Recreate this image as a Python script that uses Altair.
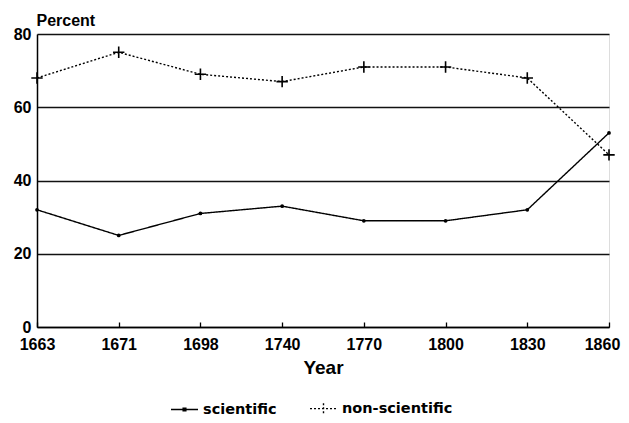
import altair as alt
import pandas as pd

years = ["1663", "1671", "1698", "1740", "1770", "1800", "1830", "1860"]
scientific = [32, 25, 31, 33, 29, 29, 32, 53]
non_scientific = [68, 75, 69, 67, 71, 71, 68, 47]
series_names = ["scientific", "non-scientific"]
y_ticks = [0, 20, 40, 60, 80]

rows = []
for name, vals in zip(series_names, [scientific, non_scientific]):
    for yr, v in zip(years, vals):
        rows.append({"Year": yr, "Percent": v, "series": name})
df = pd.DataFrame(rows)

FONT = "Liberation Sans"
LEG_FONT = "DejaVu Sans"

x_enc = alt.X(
    "Year:O",
    sort=years,
    scale=alt.Scale(padding=0),
    axis=alt.Axis(
        title="Year",
        labelAngle=0,
        labelFont=FONT,
        labelFontSize=16,
        labelFontWeight="bold",
        labelColor="black",
        labelPadding=14,
        labelOffset={"condition": {"test": "datum.label == '1860'", "value": -7}, "value": 0},
        tickSize=alt.ExprRef("-5"),
        tickColor="black",
        tickWidth=1.3,
        domainColor="black",
        domainWidth=1.5,
        grid=False,
        titleFont=FONT,
        titleFontSize=19,
        titleFontWeight="bold",
        titleColor="black",
        titlePadding=6,
    ),
)
y_enc = alt.Y(
    "Percent:Q",
    scale=alt.Scale(domain=[0, 80], nice=False),
    axis=alt.Axis(
        values=y_ticks,
        title="Percent",
        titleAngle=0,
        titleAlign="left",
        titleBaseline="alphabetic",
        titleX=-1,
        titleY=-9,
        titleFont=FONT,
        titleFontSize=16,
        titleFontWeight="bold",
        titleColor="black",
        labelFont=FONT,
        labelFontSize=16,
        labelFontWeight="bold",
        labelColor="black",
        labelPadding=6,
        ticks=False,
        domainColor="black",
        domainWidth=1.5,
        grid=True,
        gridColor="#111111",
        gridWidth=1.3,
    ),
)

legend_shapes = ["M-1,0H1M-0.1,-0.1H0.1V0.1H-0.1Z", "M-1,0H1M0,-0.4V0.4"]
dash_scale = alt.Scale(domain=series_names, range=[[1, 0], [2, 2]])

legend = alt.Legend(
    title=None,
    orient="none",
    legendX=133,
    legendY=360,
    direction="horizontal",
    symbolSize=729,
    symbolStrokeWidth=1.4,
    symbolStrokeColor="black",
    symbolOpacity=1,
    labelFont=LEG_FONT,
    labelFontSize=14.5,
    labelFontWeight="bold",
    labelColor="black",
    labelOffset=4,
    columnPadding=30,
)

lines = alt.Chart(df).mark_line(color="black", strokeWidth=1.4).encode(
    x=x_enc,
    y=y_enc,
    strokeDash=alt.StrokeDash("series:N", scale=dash_scale, legend=legend),
)

ghost = alt.Chart(df).transform_filter(alt.datum.Percent < -1).mark_point(
    filled=False, color="black", strokeWidth=1.4
).encode(
    x=alt.X("Year:O", sort=years),
    y="Percent:Q",
    shape=alt.Shape("series:N", scale=alt.Scale(domain=series_names, range=legend_shapes), legend=legend),
    strokeDash=alt.StrokeDash("series:N", scale=dash_scale, legend=legend),
)

pts_sci = alt.Chart(df).transform_filter(alt.datum.series == "scientific").mark_point(
    shape="circle", filled=True, color="black", size=14, opacity=1
).encode(x=alt.X("Year:O", sort=years), y="Percent:Q")

pts_non = alt.Chart(df).transform_filter(alt.datum.series == "non-scientific").mark_point(
    shape="M-1,0H1M0,-1V1", filled=False, color="black", size=130, strokeWidth=1.6, opacity=1
).encode(x=alt.X("Year:O", sort=years), y="Percent:Q")

chart = alt.layer(lines, ghost, pts_sci, pts_non).properties(
    width=572,
    height=293,
    autosize=alt.AutoSizeParams(type="none"),
    padding={"left": 29, "top": 26, "right": 12, "bottom": 88},
).configure_view(stroke=None).configure(background="white")

chart.save("out.html", embed_options={"renderer": "svg", "actions": False})
